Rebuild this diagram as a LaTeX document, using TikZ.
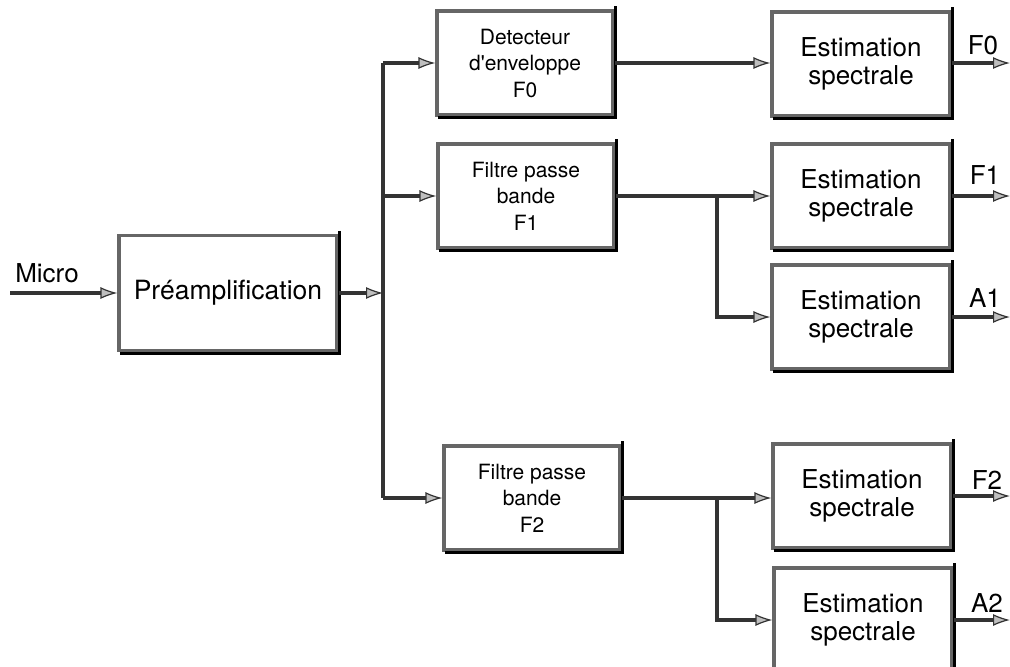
\documentclass[tikz,border=0pt]{standalone}
\usepackage{fontspec}
\setmainfont{TeX Gyre Heros}
\usetikzlibrary{arrows.meta}
\begin{document}
\begin{tikzpicture}[x=1pt,y=-1pt,
  box/.style={draw=black!60, line width=3.2pt, fill=white, inner sep=0pt, align=center},
  bigbox/.style={box, minimum width=178pt, minimum height=104pt, font=\fontsize{26}{27.5}\selectfont},
  smallbox/.style={box, minimum width=176pt, minimum height=104pt, font=\fontsize{21}{26.5}\selectfont},
  wire/.style={draw=black!80, line width=3.1pt},
  flow/.style={wire, -{Latex[length=17pt,width=12pt,fill=gray!50,color=black!80,line width=1.2pt]}},
  lbl/.style={font=\fontsize{26}{27}\selectfont, inner sep=0pt}
]
\clip (0,0) rectangle (1010,667);
\fill[white] (0,0) rectangle (1010,667);

% processing blocks
\node[box, minimum width=218pt, minimum height=115pt, font=\fontsize{26.5}{28}\selectfont] (pre) at (228,293) {Préamplification};
\node[smallbox] (det) at (525,63) {Detecteur\\d\textquotesingle enveloppe\\F0};
\node[smallbox] (f1) at (526,196) {Filtre passe\\bande\\F1};
\node[smallbox] (f2) at (532,498) {Filtre passe\\bande\\F2};
\node[bigbox] (e0) at (861,64) {Estimation\\spectrale};
\node[bigbox] (e1) at (861,196) {Estimation\\spectrale};
\node[bigbox] (a1) at (861,317) {Estimation\\spectrale};
\node[bigbox] (e2) at (862,496) {Estimation\\spectrale};
\node[bigbox] (a2) at (863,620) {Estimation\\spectrale};

% dark lower-right edge on every block
\foreach \n in {pre,det,f1,f2,e0,e1,a1,e2,a2}{
  \draw[black, line width=3pt]
    ([xshift=1pt,yshift=3pt]\n.north east) -- ([xshift=1pt,yshift=-1pt]\n.south east)
    -- ([xshift=3pt,yshift=-1pt]\n.south west);
}

% input and distribution bus
\coordinate (in) at (10,293);
\coordinate (bt) at (383,63);
\coordinate (bb) at (383,498);
\node[lbl] (mic) at (47,273) {Micro};
\draw[flow] (in) -- (pre.west);
\draw[flow] (pre.east) -- (pre.east -| bt);
\draw[wire] (bt) -- (bb);
\draw[flow] (bt) -- (det.west);
\draw[flow] (bt |- f1.west) -- (f1.west);
\draw[flow] (bb) -- (f2.west);

% filter outputs to the estimators
\coordinate (j1) at (717,196);
\coordinate (j2) at (717,498);
\draw[flow] (det.east) -- (e0.west |- det.east);
\draw[wire] (f1.east) -- (j1);
\draw[flow] (j1) -- (e1.west |- j1);
\draw[flow] (j1) |- (a1.west);
\draw[wire] (f2.east) -- (j2);
\draw[flow] (j2) -- (e2.west |- j2);
\draw[flow] (j2) |- (a2.west);

% outputs
\coordinate (o0) at (1010,63);
\coordinate (o1) at (1010,196);
\coordinate (o2) at (1010,317);
\coordinate (o3) at (1010,496);
\coordinate (o4) at (1010,620);
\draw[flow] (e0.east |- o0) -- (o0);
\draw[flow] (e1.east |- o1) -- (o1);
\draw[flow] (a1.east |- o2) -- (o2);
\draw[flow] (e2.east |- o3) -- (o3);
\draw[flow] (a2.east |- o4) -- (o4);
\node[lbl] (l0) at (983,45) {F0};
\node[lbl] (l1) at (985,175) {F1};
\node[lbl] (l2) at (985,298) {A1};
\node[lbl] (l3) at (987,480) {F2};
\node[lbl] (l4) at (987,603) {A2};
\end{tikzpicture}
\end{document}
